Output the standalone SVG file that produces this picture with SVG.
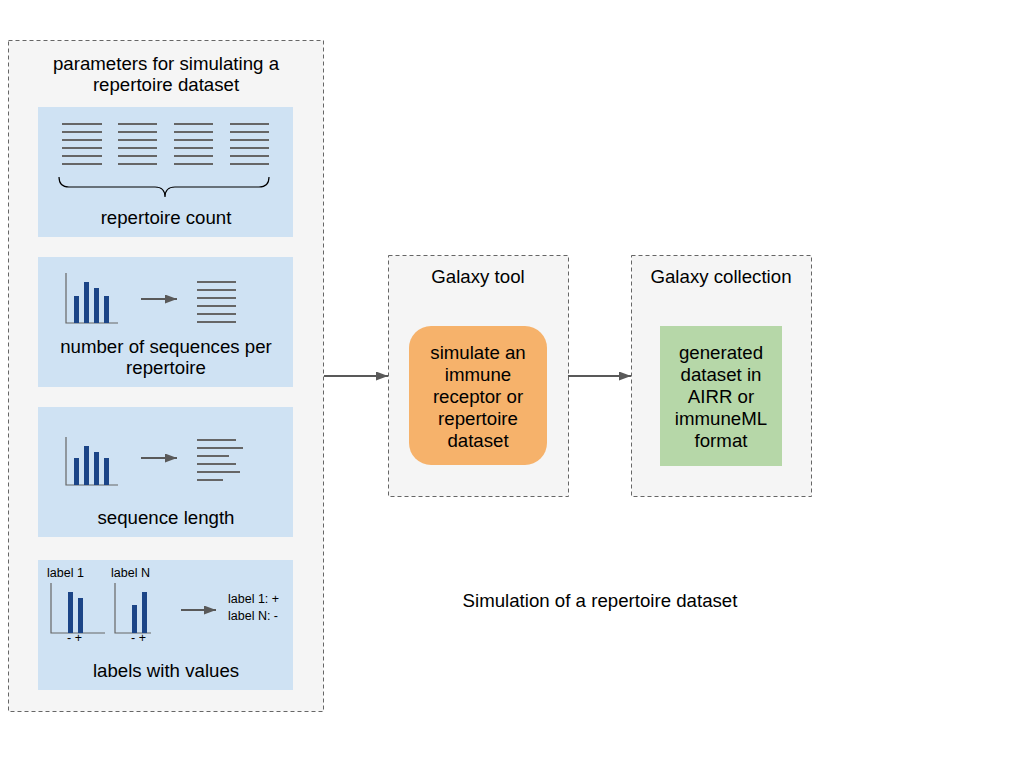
<svg xmlns="http://www.w3.org/2000/svg" width="1024" height="768" viewBox="0 0 1024 768">
<defs>
<style>
text{font-family:"Liberation Sans",Arial,sans-serif;fill:#000;}
.t{font-size:18.67px;text-anchor:middle;}
.s{font-size:12.5px;}
.grp{fill:#f5f5f5;stroke:#666;stroke-width:1;stroke-dasharray:4,3;}
.panel{fill:#cfe2f3;stroke:none;}
.ln{stroke:#666;stroke-width:2;fill:none;}
.ax{stroke:#666;stroke-width:1.2;fill:none;}
.bar{fill:#1c4587;}
.arr{stroke:#595959;stroke-width:2;fill:none;marker-end:url(#ah);}
</style>
<marker id="ah" markerUnits="userSpaceOnUse" markerWidth="13" markerHeight="9" refX="12" refY="4.5" orient="auto">
<path d="M0,0 L12,4.5 L0,9 z" fill="#595959"/>
</marker>
</defs>
<rect width="1024" height="768" fill="#fff"/>

<g id="params">
<rect class="grp" x="8.5" y="40.5" width="315" height="671"/>
<text class="t" x="166" y="70">parameters for simulating a</text>
<text class="t" x="166" y="91">repertoire dataset</text>
</g>

<g id="repertoire-count">
<rect class="panel" x="38" y="107" width="255" height="130"/>
<g class="ln">
<path d="M62,124H102M62,132H102M62,140H102M62,148H102M62,156H102M62,164H102"/>
<path d="M118,124H157M118,132H157M118,140H157M118,148H157M118,156H157M118,164H157"/>
<path d="M174,124H213M174,132H213M174,140H213M174,148H213M174,156H213M174,164H213"/>
<path d="M230,124H269M230,132H269M230,140H269M230,148H269M230,156H269M230,164H269"/>
</g>
<path d="M59,177 Q59,187 69,187 L155,187 Q165,187 165,197 Q165,187 175,187 L259,187 Q269,187 269,177" fill="none" stroke="#000" stroke-width="1.2"/>
<text class="t" x="166" y="224">repertoire count</text>
</g>

<g id="sequences-per-repertoire">
<rect class="panel" x="38" y="257" width="255" height="130"/>
<path class="ax" d="M66,273V323H118"/>
<rect class="bar" x="74" y="296" width="5" height="27"/>
<rect class="bar" x="84" y="282" width="5" height="41"/>
<rect class="bar" x="94" y="288" width="5" height="35"/>
<rect class="bar" x="104" y="296" width="5" height="27"/>
<line class="arr" x1="141" y1="299" x2="177" y2="299"/>
<path class="ln" d="M197,282H236M197,290H236M197,298H236M197,306H236M197,314H236M197,322H236"/>
<text class="t" x="166" y="353">number of sequences per</text>
<text class="t" x="166" y="374">repertoire</text>
</g>

<g id="sequence-length">
<rect class="panel" x="38" y="407" width="255" height="130"/>
<path class="ax" d="M66,437V485H118"/>
<rect class="bar" x="74" y="458" width="5" height="27"/>
<rect class="bar" x="84" y="446" width="5" height="39"/>
<rect class="bar" x="94" y="452" width="5" height="33"/>
<rect class="bar" x="104" y="458" width="5" height="27"/>
<line class="arr" x1="141" y1="458" x2="177" y2="458"/>
<path class="ln" d="M197,440H236M197,448H243M197,456H229M197,464H236M197,472H240M197,480H223"/>
<text class="t" x="166" y="524">sequence length</text>
</g>

<g id="labels-with-values">
<rect class="panel" x="38" y="560" width="255" height="130"/>
<text class="s" x="47" y="577">label 1</text>
<text class="s" x="111" y="577">label N</text>
<path class="ax" d="M51,583V633H105"/>
<rect class="bar" x="68" y="592" width="5" height="41"/>
<rect class="bar" x="78" y="598" width="5" height="35"/>
<text class="s" x="67" y="642">- +</text>
<path class="ax" d="M115,583V633H151"/>
<rect class="bar" x="132" y="605" width="5" height="28"/>
<rect class="bar" x="142" y="592" width="5" height="41"/>
<text class="s" x="131" y="642">- +</text>
<line class="arr" x1="181" y1="610" x2="216" y2="610"/>
<text class="s" x="228" y="603">label 1: +</text>
<text class="s" x="228" y="620">label N: -</text>
<text class="t" x="166" y="677">labels with values</text>
</g>

<g id="galaxy-tool">
<rect class="grp" x="388.5" y="255.5" width="180" height="241"/>
<text class="t" x="478" y="283">Galaxy tool</text>
<rect x="409" y="326" width="138" height="139" rx="22" fill="#f6b26b"/>
<text class="t" x="478" y="359">simulate an</text>
<text class="t" x="478" y="381">immune</text>
<text class="t" x="478" y="403">receptor or</text>
<text class="t" x="478" y="425">repertoire</text>
<text class="t" x="478" y="447">dataset</text>
</g>

<g id="galaxy-collection">
<rect class="grp" x="631.5" y="255.5" width="180" height="241"/>
<text class="t" x="721" y="283">Galaxy collection</text>
<rect x="660" y="326" width="122" height="140" fill="#b6d7a8"/>
<text class="t" x="721" y="359">generated</text>
<text class="t" x="721" y="381">dataset in</text>
<text class="t" x="721" y="403">AIRR or</text>
<text class="t" x="721" y="425">immuneML</text>
<text class="t" x="721" y="447">format</text>
</g>

<g id="connectors">
<line class="arr" x1="324" y1="376" x2="388" y2="376"/>
<line class="arr" x1="568" y1="376" x2="631" y2="376"/>
</g>

<g id="caption">
<text class="t" x="600" y="607">Simulation of a repertoire dataset</text>
</g>
</svg>
